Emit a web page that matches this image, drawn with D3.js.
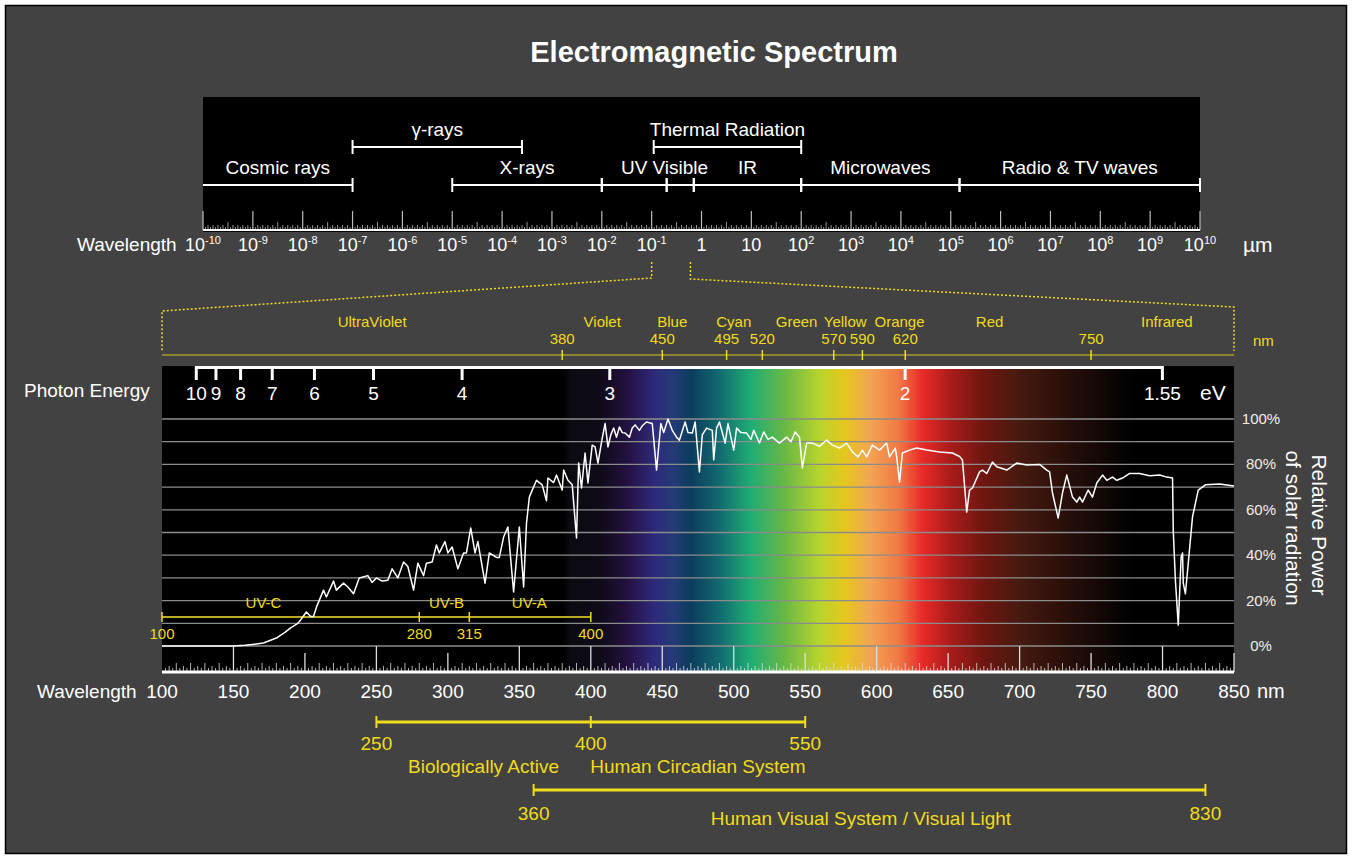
<!DOCTYPE html>
<html>
<head>
<meta charset="utf-8">
<script src="https://cdn.jsdelivr.net/npm/d3@7"></script>
<style>
    body { margin: 0; background: #fff; }
    svg text { font-family: "Liberation Sans", Arial, sans-serif; }
</style>
</head>
<body>
<div id="chart"></div>
<script>
// ---- data ----
var decadeExponents = d3.range(-10, 11);

// lower row of band bars (µm)
var bandStarts = [1e-10, 1e-5, 1e-2, 0.2, 0.7, 1e2, 1.5e5];
var bandEnds = [1e-7, 1e-2, 0.2, 0.7, 1e2, 1.5e5, 1e10];
var bandNames = ['Cosmic rays', 'X-rays', 'UV', 'Visible', 'IR', 'Microwaves', 'Radio & TV waves'];

// upper row of band bars (µm)
var upperStarts = [1e-7, 0.11];
var upperEnds = [2.5e-4, 1e2];
var upperNames = ['γ-rays', 'Thermal Radiation'];

// zoomed window of the top scale (µm)
var zoomWindow = [0.1, 0.6];

var colorNames = ['UltraViolet', 'Violet', 'Blue', 'Cyan', 'Green', 'Yellow', 'Orange', 'Red', 'Infrared'];
var colorNameNm = [247, 408, 457, 500, 544, 578, 616, 679, 803];
var colorBounds = [380, 450, 495, 520, 570, 590, 620, 750];

var photonEV = [10, 9, 8, 7, 6, 5, 4, 3, 2, 1.55];

var uvNames = ['UV-C', 'UV-B', 'UV-A'];
var uvNameNm = [171, 299, 357];
var uvBounds = [100, 280, 315, 400];

var percentTicks = d3.range(0, 101, 10);
var percentLabels = [0, 20, 40, 60, 80, 100];

var wavelengthTicks = d3.range(100, 851, 50);
var longTicks = [150, 250, 350, 400, 450, 500, 600, 700, 800];

var spectrumNm = [380, 386, 405, 425, 445, 458, 470, 490, 512, 535, 560, 578, 595, 615, 632, 652, 675, 700, 728, 755, 780];
var spectrumColors = ['#000000', '#0c0a12', '#0e0a16', '#23103f', '#2e2a7c', '#243a76', '#0b3c5c', '#126a70', '#1fad74',
    '#66b846', '#b8d42c', '#e6c61e', '#f2a552', '#f17a46', '#e82a28', '#a81c1a', '#6e1610', '#461a10', '#2c100a',
    '#140806', '#000000'];

// relative solar power (%) vs wavelength (nm)
var solarNm = [100, 150, 158, 165, 171, 180, 186, 190, 195, 197, 201, 204, 206, 208, 213, 215, 220, 222, 227, 230,
    234, 238, 244, 247, 250, 254, 258, 261, 265, 269, 272, 276, 279, 283, 285, 289, 292, 294, 298, 300,
    303, 307, 311, 313, 316, 319, 321, 326, 329, 334, 336, 339, 342, 346, 350, 353, 355, 357, 362, 366,
    369, 370, 374, 376, 380, 381, 384, 387, 390, 391.5, 393.5, 396, 398, 401, 403, 405, 408, 410, 412, 414,
    416, 418, 420, 422, 424, 427, 429, 431, 434, 436, 439, 443, 446, 449, 451, 454, 457, 460, 462, 466,
    468, 471, 473, 476, 478, 481, 485, 486, 488, 490, 494, 496, 500, 502, 505, 509, 512, 514, 518, 521,
    524, 527, 532, 537, 540, 543, 546, 548, 551, 555, 560, 565, 569, 574, 579, 583, 587, 590, 593, 597,
    602, 607, 609, 613, 614, 616, 618, 623, 628, 635, 644, 653, 658, 660, 663, 665, 667, 672, 674, 677,
    681, 684, 691, 698, 705, 714, 719, 721, 723, 727, 730, 733, 737, 740, 742, 744, 748, 751, 754, 758,
    761, 765, 768, 772, 777, 784, 791, 798, 803, 807, 807.5, 809, 811, 813, 814, 814.5, 816, 818, 821, 825,
    830, 840, 850];
var solarPct = [0, 0, 0.3, 0.8, 1.3, 3.5, 6, 8, 10, 11.5, 15, 13, 13, 17, 24.6, 21.6, 28.6, 24.6, 27.7, 26,
    23, 30, 31, 28, 30, 28.6, 29, 34, 30, 37, 35, 24.6, 36.5, 31, 36.5, 37, 44.5, 41, 46, 41,
    43.6, 34, 41, 41, 52, 41, 46, 27.7, 41, 39, 39, 48, 52.4, 23.8, 52.4, 26, 54, 65.6, 73, 71,
    64, 74, 72, 75.3, 68.7, 77.5, 73, 71, 47.6, 80.6, 69.6, 85, 71.8, 88.5, 87.7, 80.6, 91.6, 98, 87.7, 93,
    96, 92, 96.5, 94, 93.8, 92, 96, 97.4, 95, 97, 98.7, 98, 77.5, 98, 94, 100, 95, 92, 90.7, 98.7,
    94, 93.8, 98.7, 76.7, 93, 96, 95, 82, 96, 98.7, 89.4, 98, 86.3, 96, 94, 93.8, 91, 95, 89.4, 94.3,
    91, 92, 89.4, 92, 90, 94.3, 92, 78.4, 89.4, 89.4, 88, 90.7, 88.5, 87.2, 89.4, 85.5, 83.3, 86.3, 83.3, 88.5,
    86.3, 89.4, 83.3, 87.2, 83.3, 72.2, 85, 86.3, 87.2, 86.3, 85.5, 85, 83.5, 82, 59, 68.7, 69.6, 76.7, 77.5, 76,
    81, 79, 77.5, 80.6, 79.7, 80, 77.5, 76.7, 67.4, 56.4, 67.4, 75.3, 65.6, 63.4, 65.6, 63.4, 68.7, 65.6, 71.8, 75.3,
    73, 74.4, 73, 74, 76, 76, 75, 75.3, 74.4, 74, 51, 29, 9.2, 39, 41, 27.7, 23, 36.5, 57, 68.7,
    71, 71.4, 70.5];

var rangeBars = [
    { from: 250, to: 400, y: 0 },
    { from: 400, to: 550, y: 0 },
    { from: 360, to: 830, y: 1 }
];
var rangeTickNm = [[250, 400, 550], [360, 830]];
var rangeNames = ['Biologically Active', 'Human Circadian System', 'Human Visual System / Visual Light'];
var rangeNameNm = [325, 475, 589];

// ---- drawing ----
(function () {
    var yellow = '#f0dc1c';
    var olive = '#a89c2a';

    var svg = d3.select('#chart').append('svg')
        .attr('width', 1352)
        .attr('height', 859);

    svg.append('rect')
        .attr('x', 5.5).attr('y', 5.5)
        .attr('width', 1341).attr('height', 848)
        .attr('fill', '#424242')
        .attr('stroke', '#000')
        .attr('stroke-width', 1.5);

    svg.append('text')
        .attr('x', 714).attr('y', 62)
        .attr('text-anchor', 'middle')
        .attr('fill', '#fff')
        .attr('font-size', 29)
        .attr('font-weight', 'bold')
        .text('Electromagnetic Spectrum');

    // ---------- top: whole spectrum on a log scale ----------
    var logX = d3.scaleLog().domain([1e-10, 1e10]).range([203, 1200]);
    var topBase = 230;

    svg.append('rect')
        .attr('x', 203).attr('y', 97)
        .attr('width', 997).attr('height', topBase - 97 + 2)
        .attr('fill', '#000');

    var ruler = svg.append('g');
    decadeExponents.forEach(function (e) {
        var x0 = logX(Math.pow(10, e));
        ruler.append('line')
            .attr('x1', x0).attr('x2', x0)
            .attr('y1', topBase).attr('y2', topBase - 19)
            .attr('stroke', '#bbb').attr('stroke-width', 1.2);
        if (e < 10) {
            var step = (logX(Math.pow(10, e + 1)) - x0) / 20;
            d3.range(1, 20).forEach(function (i) {
                var h = i === 10 ? 8 : (i % 2 === 0 ? 5 : 3);
                ruler.append('line')
                    .attr('x1', x0 + i * step).attr('x2', x0 + i * step)
                    .attr('y1', topBase).attr('y2', topBase - h)
                    .attr('stroke', '#bbb').attr('stroke-width', 0.8);
            });
        }
        var label = ruler.append('text')
            .attr('x', x0).attr('y', 251)
            .attr('text-anchor', 'middle')
            .attr('fill', '#fff')
            .attr('font-size', 18);
        if (e === 0) {
            label.text('1');
        } else if (e === 1) {
            label.text('10');
        } else {
            label.append('tspan').text('10');
            label.append('tspan')
                .attr('font-size', 11)
                .attr('dy', -7)
                .text(e);
        }
    });

    svg.append('line')
        .attr('x1', 203).attr('x2', 1200)
        .attr('y1', topBase).attr('y2', topBase)
        .attr('stroke', '#fff').attr('stroke-width', 2);

    svg.append('text')
        .attr('x', 77).attr('y', 251)
        .attr('fill', '#fff').attr('font-size', 19)
        .text('Wavelength');
    svg.append('text')
        .attr('x', 1243).attr('y', 252)
        .attr('fill', '#fff').attr('font-size', 21)
        .text('µm');

    var drawBands = function (starts, ends, names, y, skipFirstTick) {
        var g = svg.append('g');
        starts.forEach(function (s, i) {
            var x1 = logX(s), x2 = logX(ends[i]);
            g.append('line')
                .attr('x1', x1).attr('x2', x2)
                .attr('y1', y).attr('y2', y)
                .attr('stroke', '#fff').attr('stroke-width', 2);
            [x1, x2].forEach(function (x, k) {
                if (skipFirstTick && i === 0 && k === 0) return;
                g.append('line')
                    .attr('x1', x).attr('x2', x)
                    .attr('y1', y - 7).attr('y2', y + 7)
                    .attr('stroke', '#fff').attr('stroke-width', 2);
            });
            g.append('text')
                .attr('x', (x1 + x2) / 2).attr('y', y - 11)
                .attr('text-anchor', 'middle')
                .attr('fill', '#fff').attr('font-size', 19)
                .text(names[i]);
        });
    };
    drawBands(bandStarts, bandEnds, bandNames, 185, true);
    drawBands(upperStarts, upperEnds, upperNames, 147, false);

    // ---------- zoom connector ----------
    var x = d3.scaleLinear().domain([100, 850]).range([162, 1234]);
    var nmAxisY = 355;

    var connector = d3.line();
    svg.append('path')
        .attr('d', connector([[logX(zoomWindow[0]), 262], [logX(zoomWindow[0]), 278], [x(100), 311], [x(100), 351]]))
        .attr('fill', 'none').attr('stroke', yellow)
        .attr('stroke-width', 1.5).attr('stroke-dasharray', '2,2');
    svg.append('path')
        .attr('d', connector([[logX(zoomWindow[1]), 262], [logX(zoomWindow[1]), 279], [x(850), 307], [x(850), 351]]))
        .attr('fill', 'none').attr('stroke', yellow)
        .attr('stroke-width', 1.5).attr('stroke-dasharray', '2,2');

    // colour names on the nm axis
    svg.append('line')
        .attr('x1', x(100)).attr('x2', x(850))
        .attr('y1', nmAxisY).attr('y2', nmAxisY)
        .attr('stroke', olive).attr('stroke-width', 1.5);
    colorBounds.forEach(function (nm) {
        svg.append('line')
            .attr('x1', x(nm)).attr('x2', x(nm))
            .attr('y1', nmAxisY - 5).attr('y2', nmAxisY + 5)
            .attr('stroke', yellow).attr('stroke-width', 1.5);
        svg.append('text')
            .attr('x', x(nm)).attr('y', nmAxisY - 11)
            .attr('text-anchor', 'middle')
            .attr('fill', yellow).attr('font-size', 15)
            .text(nm);
    });
    colorNames.forEach(function (name, i) {
        svg.append('text')
            .attr('x', x(colorNameNm[i])).attr('y', 327)
            .attr('text-anchor', 'middle')
            .attr('fill', yellow).attr('font-size', 15)
            .text(name);
    });
    svg.append('text')
        .attr('x', 1253).attr('y', 346)
        .attr('fill', yellow).attr('font-size', 15)
        .text('nm');

    // ---------- spectrum panel ----------
    var top = 366, bottom = 672;
    var y = d3.scaleLinear().domain([0, 100]).range([646, 419]);

    var grad = svg.append('defs').append('linearGradient')
        .attr('id', 'spectrum')
        .attr('gradientUnits', 'userSpaceOnUse')
        .attr('x1', x(100)).attr('x2', x(850))
        .attr('y1', 0).attr('y2', 0);
    spectrumNm.forEach(function (nm, i) {
        grad.append('stop')
            .attr('offset', (nm - 100) / 750)
            .attr('stop-color', spectrumColors[i]);
    });

    svg.append('rect')
        .attr('x', x(100)).attr('y', top)
        .attr('width', x(850) - x(100)).attr('height', bottom - top)
        .attr('fill', 'url(#spectrum)');

    svg.append('g').selectAll('line')
        .data(percentTicks)
        .join('line')
        .attr('x1', x(100)).attr('x2', x(850))
        .attr('y1', function (d) { return y(d); })
        .attr('y2', function (d) { return y(d); })
        .attr('stroke', '#8c8c8c').attr('stroke-width', 1.3);

    svg.append('g').selectAll('text')
        .data(percentLabels)
        .join('text')
        .attr('x', 1261)
        .attr('y', function (d) { return y(d) + 5; })
        .attr('text-anchor', 'middle')
        .attr('fill', '#eee').attr('font-size', 15)
        .text(function (d) { return d + '%'; });

    svg.append('text')
        .attr('transform', 'translate(1312,525) rotate(90)')
        .attr('text-anchor', 'middle')
        .attr('fill', '#fff').attr('font-size', 21)
        .text('Relative Power');
    svg.append('text')
        .attr('transform', 'translate(1286,528) rotate(90)')
        .attr('text-anchor', 'middle')
        .attr('fill', '#fff').attr('font-size', 21)
        .text('of solar radiation');

    // photon energy axis
    var evToNm = function (ev) { return 1239.84 / ev; };
    svg.append('line')
        .attr('x1', x(evToNm(10))).attr('x2', x(evToNm(1.55)))
        .attr('y1', top + 1.5).attr('y2', top + 1.5)
        .attr('stroke', '#fff').attr('stroke-width', 3);
    photonEV.forEach(function (ev) {
        var px = x(evToNm(ev));
        svg.append('line')
            .attr('x1', px).attr('x2', px)
            .attr('y1', top).attr('y2', top + 14)
            .attr('stroke', '#fff').attr('stroke-width', 3);
        svg.append('text')
            .attr('x', px).attr('y', 400)
            .attr('text-anchor', 'middle')
            .attr('fill', '#fff').attr('font-size', 19)
            .text(ev);
    });
    svg.append('text')
        .attr('x', 24).attr('y', 397)
        .attr('fill', '#fff').attr('font-size', 19)
        .text('Photon Energy');
    svg.append('text')
        .attr('x', 1200).attr('y', 400)
        .attr('fill', '#fff').attr('font-size', 21)
        .text('eV');

    // UV sub-bands
    var uvY = 617;
    svg.append('line')
        .attr('x1', x(100)).attr('x2', x(400))
        .attr('y1', uvY).attr('y2', uvY)
        .attr('stroke', '#b8aa22').attr('stroke-width', 1.8);
    uvBounds.forEach(function (nm) {
        svg.append('line')
            .attr('x1', x(nm)).attr('x2', x(nm))
            .attr('y1', uvY - 5).attr('y2', uvY + 5)
            .attr('stroke', yellow).attr('stroke-width', 1.5);
        svg.append('text')
            .attr('x', x(nm)).attr('y', 639)
            .attr('text-anchor', 'middle')
            .attr('fill', yellow).attr('font-size', 15)
            .text(nm);
    });
    uvNames.forEach(function (name, i) {
        svg.append('text')
            .attr('x', x(uvNameNm[i])).attr('y', 608)
            .attr('text-anchor', 'middle')
            .attr('fill', yellow).attr('font-size', 15)
            .text(name);
    });

    // solar curve
    var curve = d3.line()
        .x(function (d) { return x(d[0]); })
        .y(function (d) { return y(d[1]); });
    svg.append('path')
        .attr('d', curve(d3.zip(solarNm, solarPct)))
        .attr('fill', 'none')
        .attr('stroke', '#fff')
        .attr('stroke-width', 1.5)
        .attr('stroke-linejoin', 'round');

    // bottom wavelength ruler
    var bottomTicks = svg.append('g');
    d3.range(102.5, 850.1, 2.5).forEach(function (nm) {
        var h, w = 0.8;
        if (nm % 50 === 0) {
            h = longTicks.indexOf(nm) >= 0 ? bottom - 646 : bottom - 653;
            w = 1.3;
        } else if (nm % 10 === 0) {
            h = 9;
        } else if (nm % 5 === 0) {
            h = 6;
        } else {
            h = 4;
        }
        bottomTicks.append('line')
            .attr('x1', x(nm)).attr('x2', x(nm))
            .attr('y1', bottom).attr('y2', bottom - h)
            .attr('stroke', '#ddd').attr('stroke-width', w);
    });
    svg.append('line')
        .attr('x1', x(100)).attr('x2', x(850))
        .attr('y1', bottom).attr('y2', bottom)
        .attr('stroke', '#fff').attr('stroke-width', 3);

    svg.append('g').selectAll('text')
        .data(wavelengthTicks)
        .join('text')
        .attr('x', function (d) { return x(d); })
        .attr('y', 698)
        .attr('text-anchor', 'middle')
        .attr('fill', '#fff').attr('font-size', 19)
        .text(function (d) { return d; });
    svg.append('text')
        .attr('x', 37).attr('y', 698)
        .attr('fill', '#fff').attr('font-size', 19)
        .text('Wavelength');
    svg.append('text')
        .attr('x', 1257).attr('y', 698)
        .attr('fill', '#fff').attr('font-size', 20)
        .text('nm');

    // ---------- bottom range bars ----------
    var barRowY = [722, 790];
    rangeBars.forEach(function (b) {
        svg.append('line')
            .attr('x1', x(b.from)).attr('x2', x(b.to))
            .attr('y1', barRowY[b.y]).attr('y2', barRowY[b.y])
            .attr('stroke', yellow).attr('stroke-width', 3);
    });
    rangeTickNm.forEach(function (ticks, row) {
        ticks.forEach(function (nm) {
            svg.append('line')
                .attr('x1', x(nm)).attr('x2', x(nm))
                .attr('y1', barRowY[row] - 6).attr('y2', barRowY[row] + 6)
                .attr('stroke', yellow).attr('stroke-width', 2);
            svg.append('text')
                .attr('x', x(nm)).attr('y', barRowY[row] + (row === 0 ? 28 : 30))
                .attr('text-anchor', 'middle')
                .attr('fill', yellow).attr('font-size', 19)
                .text(nm);
        });
    });
    var nameRowY = [773, 825];
    rangeNames.forEach(function (name, i) {
        svg.append('text')
            .attr('x', x(rangeNameNm[i])).attr('y', nameRowY[i < 2 ? 0 : 1])
            .attr('text-anchor', 'middle')
            .attr('fill', yellow).attr('font-size', 19)
            .text(name);
    });
})();
</script>
</body>
</html>
